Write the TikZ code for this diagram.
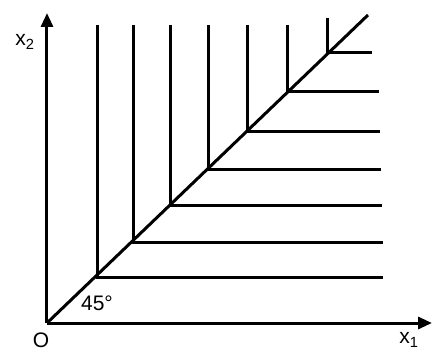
\documentclass[tikz,border=0pt]{standalone}
\usepackage{fontspec}
\setmainfont{Liberation Sans}
\usetikzlibrary{arrows.meta}

\begin{document}
\begin{tikzpicture}[x=1pt, y=1pt, line width=3pt,
    lbl/.style={font=\fontsize{21}{23}\selectfont, inner sep=1pt},
    axis/.style={-{Triangle[length=14pt, width=12pt]}}]
    \useasboundingbox (-47,-31) rectangle (386,323);

    % Axes
    \coordinate (O) at (0,0);
    \coordinate (x1end) at (385,0);
    \coordinate (x2end) at (0,310);
    \draw[axis] (O) -- (x1end);
    \draw[axis] (O) -- (x2end);
    \node[lbl] (origin) at (-6,-17) {O};
    \node[lbl] (x1label) at (362,-17) {x\textsubscript{1}};
    \node[lbl] (x2label) at (-22,281) {x\textsubscript{2}};

    % Ray through the corners
    \coordinate (rayend) at (321,308);
    \draw (O) -- (rayend);
    \node[lbl] (angle) at (50,20) {45\textdegree};

    % L-shaped curves
    \foreach \i/\cx/\cy/\top/\rgt in {1/50/46/298/336, 2/86/81/298/336, 3/123/118/298/335,
        4/161/154/298/334, 5/200/192/298/333, 6/240/232/298/332, 7/280/270/305/325} {
        \coordinate (c\i) at (\cx,\cy);
        \coordinate (t\i) at (\cx,\top);
        \coordinate (r\i) at (\rgt,\cy);
        \draw (t\i) -- (c\i) -- (r\i);
    }
\end{tikzpicture}
\end{document}
